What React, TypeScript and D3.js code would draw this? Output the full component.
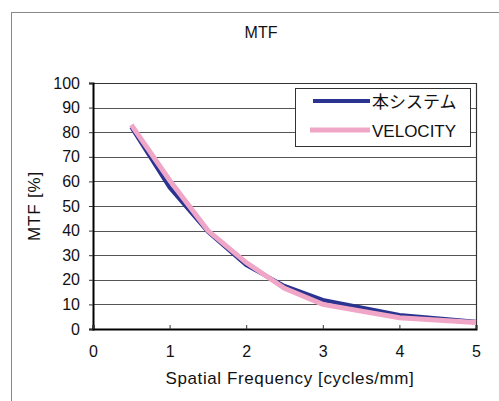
import React, { useRef, useEffect } from 'react';
import * as d3 from 'd3';

const freqs = [0.5, 1, 1.5, 2, 2.5, 3, 4, 5];
const systemValues = [82, 57.5, 39.5, 26, 17.5, 11.8, 5.7, 3];
const velocityValues = [83, 60.5, 40, 27, 16.5, 10, 4.6, 2.6];
const seriesNames = ['本システム', 'VELOCITY'];
const yTicks = [0, 10, 20, 30, 40, 50, 60, 70, 80, 90, 100];
const xTicks = [0, 1, 2, 3, 4, 5];

const font = 'Arial, "Liberation Sans", "Noto Sans CJK JP", sans-serif';

export default function App() {
  const ref = useRef<SVGSVGElement>(null);

  useEffect(() => {
    const svg = d3.select(ref.current);
    svg.selectAll('*').remove();
    const width = 499, height = 401;
    const left = 93, right = 476, top = 83, bottom = 329;

    svg.append('rect').attr('width', width).attr('height', height).attr('fill', '#fff');
    // outer chart frame
    svg.append('rect')
      .attr('x', 11.5).attr('y', 12.5)
      .attr('width', 500).attr('height', 400)
      .attr('fill', 'none').attr('stroke', '#888').attr('stroke-width', 1);

    const x = d3.scaleLinear().domain([0, 5]).range([left, right]);
    const y = d3.scaleLinear().domain([0, 100]).range([bottom, top]);

    // gridlines
    svg.append('g').selectAll('line')
      .data(yTicks.filter(d => d > 0))
      .join('line')
      .attr('x1', left).attr('x2', right)
      .attr('y1', d => Math.round(y(d)) + 0.5).attr('y2', d => Math.round(y(d)) + 0.5)
      .attr('stroke', '#555').attr('stroke-width', 1);

    // plot border (top, right)
    svg.append('path')
      .attr('d', `M${left},${top + 0.5}H${right + 0.5}V${bottom}`)
      .attr('fill', 'none').attr('stroke', '#333').attr('stroke-width', 1.2);

    // y axis
    const yAxis = svg.append('g')
      .attr('transform', `translate(${left},0)`)
      .call(d3.axisLeft(y).tickValues(yTicks).tickSize(4).tickPadding(9));
    yAxis.select('.domain').attr('stroke', '#000').attr('stroke-width', 2);
    yAxis.selectAll('.tick line').attr('stroke', '#333');
    yAxis.selectAll('text').attr('font-family', font).attr('font-size', 16).attr('fill', '#111');

    // x axis
    const xAxis = svg.append('g')
      .attr('transform', `translate(0,${bottom})`)
      .call(d3.axisBottom(x).tickValues(xTicks).tickFormat(d3.format('d')).tickSize(-4).tickPadding(17));
    xAxis.select('.domain').attr('stroke', '#000').attr('stroke-width', 2);
    xAxis.selectAll('.tick line').attr('stroke', '#333');
    xAxis.selectAll('text').attr('font-family', font).attr('font-size', 16).attr('fill', '#111');

    const line = d3.line<number>()
      .x((_, i) => x(freqs[i]))
      .y(d => y(d));

    svg.append('path')
      .attr('d', line(systemValues))
      .attr('fill', 'none').attr('stroke', '#2a3390').attr('stroke-width', 4)
      .attr('stroke-linejoin', 'miter');
    svg.append('path')
      .attr('d', line(velocityValues))
      .attr('fill', 'none').attr('stroke', '#f0a6c6').attr('stroke-width', 5)
      .attr('stroke-linejoin', 'miter');

    // title
    svg.append('text')
      .attr('x', 261).attr('y', 38)
      .attr('text-anchor', 'middle')
      .attr('font-family', font).attr('font-size', 16).attr('fill', '#111')
      .text('MTF');

    // axis titles
    svg.append('text')
      .attr('x', 290).attr('y', 384)
      .attr('text-anchor', 'middle')
      .attr('font-family', font).attr('font-size', 17).attr('letter-spacing', 0.6).attr('fill', '#111')
      .text('Spatial Frequency [cycles/mm]');
    svg.append('text')
      .attr('transform', 'translate(40,206) rotate(-90)')
      .attr('text-anchor', 'middle')
      .attr('font-family', font).attr('font-size', 17).attr('letter-spacing', 0.8).attr('fill', '#111')
      .text('MTF [%]');

    // legend
    const lg = svg.append('g');
    lg.append('rect')
      .attr('x', 295.5).attr('y', 88.5).attr('width', 175).attr('height', 58)
      .attr('fill', '#fff').attr('stroke', '#333').attr('stroke-width', 1);
    const colors = ['#2a3390', '#f0a6c6'];
    const widths = [4, 5];
    seriesNames.forEach((name, i) => {
      const ly = 101 + i * 29;
      lg.append('line')
        .attr('x1', i === 0 ? 313 : 310).attr('x2', 370)
        .attr('y1', ly).attr('y2', ly)
        .attr('stroke', colors[i]).attr('stroke-width', widths[i]);
      lg.append('text')
        .attr('x', 372).attr('y', ly + 7)
        .attr('font-family', font).attr('font-size', 17).attr('fill', '#111')
        .text(name);
    });
  }, []);

  return (
    <svg ref={ref} width={499} height={401}
      style={{ position: 'absolute', left: 0, top: 0 }}
      role="img" aria-label="MTF chart" />
  );
}
